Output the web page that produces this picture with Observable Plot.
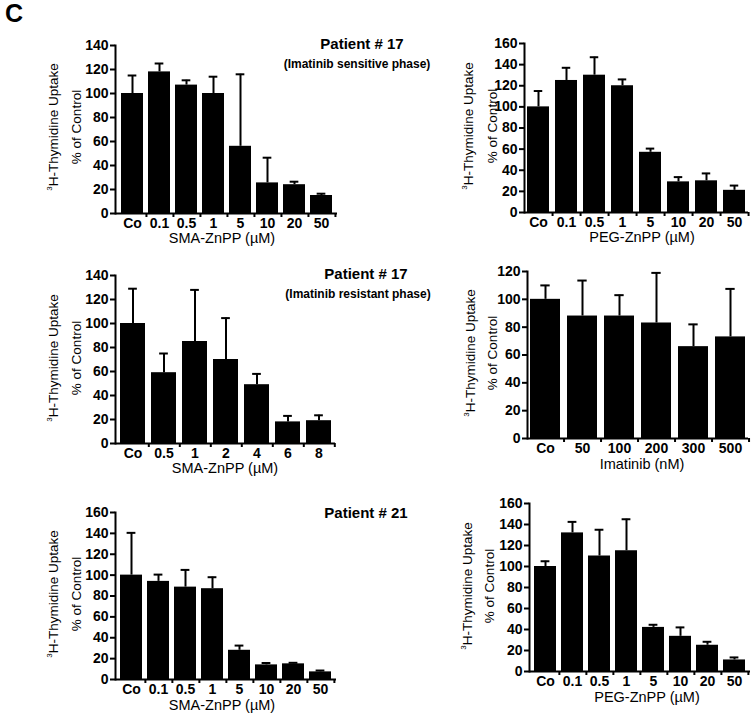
<!DOCTYPE html>
<html>
<head>
<meta charset="utf-8">
<script src="https://cdn.jsdelivr.net/npm/d3@7"></script>
<script src="https://cdn.jsdelivr.net/npm/@observablehq/plot@0.6"></script>
<style>
  html, body { margin: 0; padding: 0; background: #fff; }
  #root { position: relative; width: 752px; height: 713px; overflow: hidden; background: #fff;
          font-family: 'Liberation Sans', Arial, sans-serif; color: #000; }
  .lbl { position: absolute; white-space: nowrap; transform: translate(-50%, -50%); line-height: 1; }
  .rot { position: absolute; white-space: nowrap; transform: translate(-50%, -50%) rotate(-90deg); line-height: 1; font-size: 13.5px; }
  .plot { position: absolute; }
</style>
</head>
<body>
<div id="root"></div>
<script>
// ---- data ----
const zn8Cats = ["Co", "0.1", "0.5", "1", "5", "10", "20", "50"];
const sma7Cats = ["Co", "0.5", "1", "2", "4", "6", "8"];
const imaCats = ["Co", "50", "100", "200", "300", "500"];

const p1Values = [100, 118, 107, 100, 56, 25.5, 24, 15];
const p1Upper  = [115, 125, 111, 114, 116, 46.5, 26.5, 16.5];

const p2Values = [100, 125, 130, 120, 57, 29, 30, 21];
const p2Upper  = [115, 137, 147, 126, 60.5, 33.5, 37, 25.5];

const p3Values = [100, 59, 85, 70, 49, 18, 19];
const p3Upper  = [129, 75, 128, 104.5, 58, 23, 23.5];

const p4Values = [100, 88, 88, 83, 66, 73];
const p4Upper  = [110, 113.5, 103, 119, 82, 107.5];

const p5Values = [100, 94, 88.5, 87, 28, 14, 15, 7.3];
const p5Upper  = [140.5, 100.5, 105, 98, 32.5, 15.8, 16, 8.6];

const p6Values = [100, 132, 110, 115, 42, 33.5, 25, 11];
const p6Upper  = [105, 142.5, 135, 145, 44.5, 42, 28.3, 13.4];

const yTicks140 = [0, 20, 40, 60, 80, 100, 120, 140];
const yTicks160 = [0, 20, 40, 60, 80, 100, 120, 140, 160];
const yTicks120 = [0, 20, 40, 60, 80, 100, 120];

const xTitles = ["SMA-ZnPP (µM)", "PEG-ZnPP (µM)", "SMA-ZnPP (µM)", "Imatinib (nM)", "SMA-ZnPP (µM)", "PEG-ZnPP (µM)"];

// ---- layout (frame edges in page pixels) ----
const panels = [
  {cats: zn8Cats, vals: p1Values, up: p1Upper, yMax: 140, ticks: yTicks140, col: 0, fL: 115, fR: 337, fT: 45, fB: 213, xt: {x: 222, y: 238}, yt: {x1: 53, x2: 77, y: 127}},
  {cats: zn8Cats, vals: p2Values, up: p2Upper, yMax: 160, ticks: yTicks160, col: 1, fL: 524, fR: 748, fT: 43, fB: 212, xt: {x: 642, y: 237}, yt: {x1: 468, x2: 493, y: 126}},
  {cats: sma7Cats, vals: p3Values, up: p3Upper, yMax: 140, ticks: yTicks140, col: 0, fL: 115, fR: 335, fT: 275, fB: 443, xt: {x: 225, y: 468}, yt: {x1: 53, x2: 77, y: 358}},
  {cats: imaCats, vals: p4Values, up: p4Upper, yMax: 120, ticks: yTicks120, col: 1, fL: 527, fR: 748, fT: 271, fB: 438, xt: {x: 642, y: 464}, yt: {x1: 470, x2: 493, y: 353}},
  {cats: zn8Cats, vals: p5Values, up: p5Upper, yMax: 160, ticks: yTicks160, col: 0, fL: 115, fR: 336, fT: 512, fB: 679, xt: {x: 222, y: 705}, yt: {x1: 53, x2: 77, y: 594}},
  {cats: zn8Cats, vals: p6Values, up: p6Upper, yMax: 160, ticks: yTicks160, col: 1, fL: 529, fR: 750, fT: 503, fB: 671, xt: {x: 647, y: 697}, yt: {x1: 467, x2: 490, y: 586}}
];

const root = document.getElementById("root");
const pI = 0.2, pO = 0.08;

function addLabel(html, x, y, css, cls = "lbl") {
  const d = document.createElement("div");
  d.className = cls;
  d.innerHTML = html;
  d.style.left = x + "px";
  d.style.top = y + "px";
  Object.assign(d.style, css || {});
  root.appendChild(d);
}

panels.forEach((p, i) => {
  const rows = p.cats.map((c, k) => ({cat: c, val: p.vals[k], up: p.up[k]}));
  const svgLeft = p.col === 0 ? 0 : 380;
  const width = p.col === 0 ? 380 : 372;
  const mT = 10, mB = 25;
  const mL = p.fL - svgLeft;
  const mR = svgLeft + width - p.fR;
  const height = (p.fB - p.fT) + mT + mB;
  const innerW = p.fR - p.fL;
  const n = p.cats.length;
  const step = innerW / (n - pI + 2 * pO);
  const bw = step * (1 - pI);
  const capInset = Math.max(0, (bw - 9) / 2);

  const chart = Plot.plot({
    width, height,
    marginLeft: mL, marginRight: mR, marginTop: mT, marginBottom: mB,
    style: {fontFamily: "'Liberation Sans', Arial, sans-serif", fontSize: "14px", fontWeight: "bold", color: "black", background: "transparent", overflow: "visible"},
    x: {domain: p.cats, paddingInner: pI, paddingOuter: pO, align: 0.5, axis: null},
    y: {domain: [0, p.yMax], axis: null},
    marks: [
      Plot.barY(rows, {x: "cat", y: "val", fill: "black"}),
      Plot.ruleX(rows, {x: "cat", y1: "val", y2: "up", stroke: "black", strokeWidth: 2}),
      Plot.tickY(rows, {x: "cat", y: "up", stroke: "black", strokeWidth: 2, insetLeft: capInset, insetRight: capInset}),
      Plot.axisY({ticks: p.ticks, tickSize: 5, tickPadding: 2, strokeWidth: 2, fontSize: 14, fontWeight: "bold", label: null}),
      Plot.axisX({tickSize: 0, tickPadding: 5, fontSize: 14, fontWeight: "bold", label: null}),
      Plot.axisX({tickSize: 4, fill: "none", dx: step / 2, strokeWidth: 2, label: null}),
      Plot.ruleY([0], {stroke: "black", strokeWidth: 2}),
      Plot.frame({anchor: "left", stroke: "black", strokeWidth: 2})
    ]
  });
  chart.classList.add("plot");
  chart.style.left = svgLeft + "px";
  chart.style.top = (p.fT - mT) + "px";
  root.appendChild(chart);

  addLabel(xTitles[i], p.xt.x, p.xt.y, {fontSize: "14.5px"});
  addLabel('<sup style="font-size:8px;vertical-align:6px">3</sup>H-Thymidine Uptake', p.yt.x1, p.yt.y, {}, "rot");
  addLabel("% of Control", p.yt.x2, p.yt.y, {}, "rot");
});

// panel letter and patient annotations
addLabel("C", 14, 13, {fontSize: "25px", fontWeight: "bold"});
addLabel("Patient # 17", 362, 43, {fontSize: "15px", fontWeight: "bold"});
addLabel("(Imatinib sensitive phase)", 357, 64, {fontSize: "12px", fontWeight: "bold"});
addLabel("Patient # 17", 366, 273, {fontSize: "15px", fontWeight: "bold"});
addLabel("(Imatinib resistant phase)", 358, 294, {fontSize: "12px", fontWeight: "bold"});
addLabel("Patient # 21", 366, 512, {fontSize: "15px", fontWeight: "bold"});
</script>
</body>
</html>
